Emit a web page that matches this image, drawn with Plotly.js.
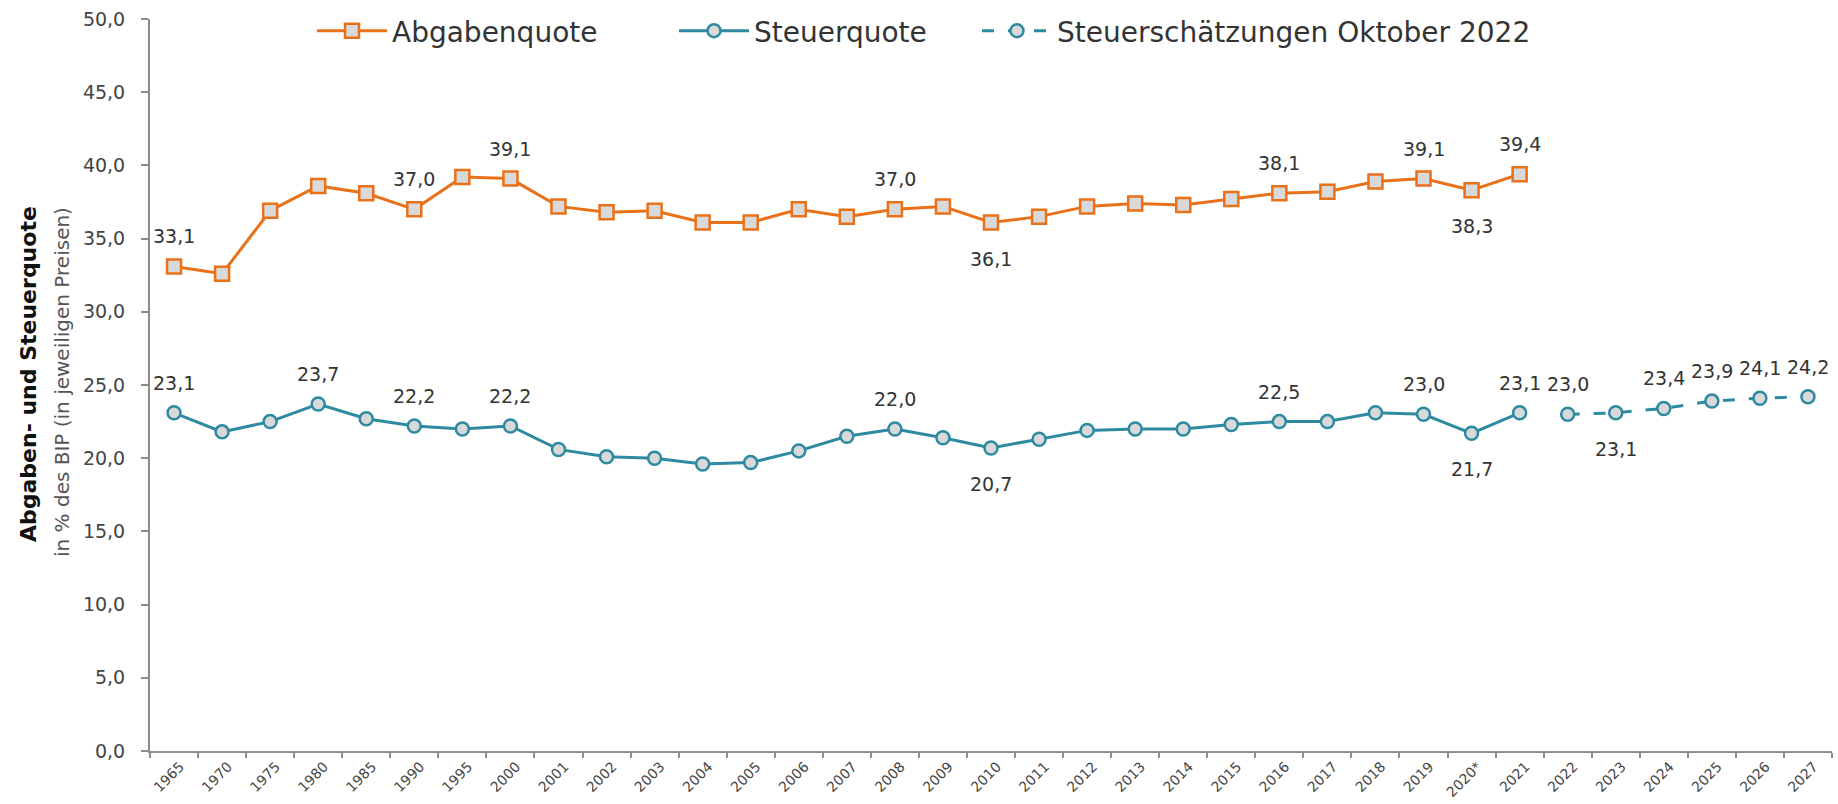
<!DOCTYPE html>
<html>
<head>
<meta charset="utf-8">
<script src="https://cdn.plot.ly/plotly-3.0.1.min.js"></script>
<style>html,body{margin:0;padding:0;background:#fff;}#chart{width:1838px;height:804px;}</style>
</head>
<body>
<div id="chart"></div>
<script>
// ---- data ----
const categories = ['1965','1970','1975','1980','1985','1990','1995','2000','2001','2002','2003','2004','2005','2006','2007','2008','2009','2010','2011','2012','2013','2014','2015','2016','2017','2018','2019','2020*','2021','2022','2023','2024','2025','2026','2027'];
const histYears = categories.slice(0, 29);
const forecastYears = categories.slice(29);
const abgabenquote = [33.1,32.6,36.9,38.6,38.1,37.0,39.2,39.1,37.2,36.8,36.9,36.1,36.1,37.0,36.5,37.0,37.2,36.1,36.5,37.2,37.4,37.3,37.7,38.1,38.2,38.9,39.1,38.3,39.4];
const steuerquote = [23.1,21.8,22.5,23.7,22.7,22.2,22.0,22.2,20.6,20.1,20.0,19.6,19.7,20.5,21.5,22.0,21.4,20.7,21.3,21.9,22.0,22.0,22.3,22.5,22.5,23.1,23.0,21.7,23.1];
const steuerschaetzung = [23.0,23.1,23.4,23.9,24.1,24.2];
// which values carry a data label: 'a' above, 'b' below, '' none
const abgabenLabelSide = ['a','','','','','a','','a','','','','','','','','a','','b','','','','','','a','','','a','b','a'];
const steuerLabelSide  = ['a','','','a','','a','','a','','','','','','','','a','','b','','','','','','a','','','a','b','a'];
const schaetzLabelSide = ['a','b','a','a','a','a'];
const seriesNames = ['Abgabenquote','Steuerquote','Steuerschätzungen Oktober 2022'];
const yTitle = 'Abgaben- und Steuerquote';
const ySubTitle = 'in % des BIP (in jeweiligen Preisen)';

// ---- styles ----
const ORANGE = '#E8711A';
const TEAL = '#2E8AA1';
const FILL = '#D9D9D9';
const TXT = '#333333';
const FONT = 'DejaVu Sans, Lato, sans-serif';

const traces = [
  {x: histYears, y: abgabenquote, name: seriesNames[0], type: 'scatter', mode: 'lines+markers',
   line: {color: ORANGE, width: 3}, marker: {symbol: 'square', size: 14, color: FILL, line: {color: ORANGE, width: 2.5}},
   legend: 'legend', hoverinfo: 'x+y'},
  {x: histYears, y: steuerquote, name: seriesNames[1], type: 'scatter', mode: 'lines+markers',
   line: {color: TEAL, width: 3}, marker: {symbol: 'circle', size: 13, color: FILL, line: {color: TEAL, width: 2.5}},
   legend: 'legend2', hoverinfo: 'x+y'},
  {x: forecastYears, y: steuerschaetzung, name: seriesNames[2], type: 'scatter', mode: 'lines+markers',
   line: {color: TEAL, width: 3, dash: '12px,14px'}, marker: {symbol: 'circle', size: 13, color: FILL, line: {color: TEAL, width: 2.5}},
   legend: 'legend3', hoverinfo: 'x+y'}
];

function fmt(v){ return v.toFixed(1).replace('.', ','); }
const annotations = [];
function addLabels(xs, ys, sides){
  xs.forEach((x, i) => {
    if (!sides[i]) return;
    annotations.push({x: categories.indexOf(x), y: ys[i], xref: 'x', yref: 'y', text: fmt(ys[i]), showarrow: false,
      xanchor: 'center', yanchor: 'middle', yshift: sides[i] === 'a' ? 30 : -36,
      font: {family: FONT, size: 19, color: TXT}});
  });
}
addLabels(histYears, abgabenquote, abgabenLabelSide);
addLabels(histYears, steuerquote, steuerLabelSide);
addLabels(forecastYears, steuerschaetzung, schaetzLabelSide);

const L = 150, R = 6, T = 15, B = 53;
const PW = 1838 - L - R, PH = 804 - T - B;
function px2paperX(px){ return (px - L) / PW; }
function px2paperY(py){ return (804 - B - py) / PH; }

annotations.push({xref: 'paper', yref: 'paper', x: px2paperX(28), y: px2paperY(372), xanchor: 'center', yanchor: 'middle',
  textangle: -90, showarrow: false, text: '<b>' + yTitle + '</b>', font: {family: FONT, size: 22, color: '#111'}});
annotations.push({xref: 'paper', yref: 'paper', x: px2paperX(62), y: px2paperY(380), xanchor: 'center', yanchor: 'middle',
  textangle: -90, showarrow: false, text: ySubTitle, font: {family: FONT, size: 20, color: '#555'}});

const legendBase = {orientation: 'h', yanchor: 'middle', y: px2paperY(27), xanchor: 'left', bgcolor: 'rgba(0,0,0,0)',
  itemwidth: 70, font: {family: FONT, size: 28, color: TXT}, itemclick: false, itemdoubleclick: false};

const layout = {
  width: 1838, height: 804,
  margin: {l: L, r: R, t: T, b: B},
  paper_bgcolor: '#fff', plot_bgcolor: '#fff',
  separators: ',.',
  font: {family: FONT, color: TXT},
  showlegend: true,
  legend: Object.assign({}, legendBase, {x: px2paperX(312)}),
  legend2: Object.assign({}, legendBase, {x: px2paperX(674)}),
  legend3: Object.assign({}, legendBase, {x: px2paperX(977)}),
  xaxis: {type: 'category', categoryorder: 'array', categoryarray: categories,
    range: [-0.5, categories.length - 0.5],
    showline: true, linecolor: '#8C8C8C', linewidth: 2, showgrid: false, zeroline: false,
    ticks: 'outside', tickson: 'boundaries', ticklen: 5, tickwidth: 2, tickcolor: '#8C8C8C',
    ticklabelstandoff: 0, ticklabelshift: 6,
    tickangle: -45, tickfont: {family: FONT, size: 14, color: '#444'}},
  yaxis: {range: [0, 50], dtick: 5, tickformat: '.1f', showline: true, linecolor: '#8C8C8C', linewidth: 2,
    showgrid: false, zeroline: false, ticks: 'outside', ticklen: 7, tickwidth: 2, tickcolor: '#8C8C8C',
    ticklabelstandoff: 12, tickfont: {family: FONT, size: 19, color: '#444'}},
  annotations: annotations
};

Plotly.newPlot('chart', traces, layout, {displayModeBar: false, staticPlot: true});
</script>
</body>
</html>
